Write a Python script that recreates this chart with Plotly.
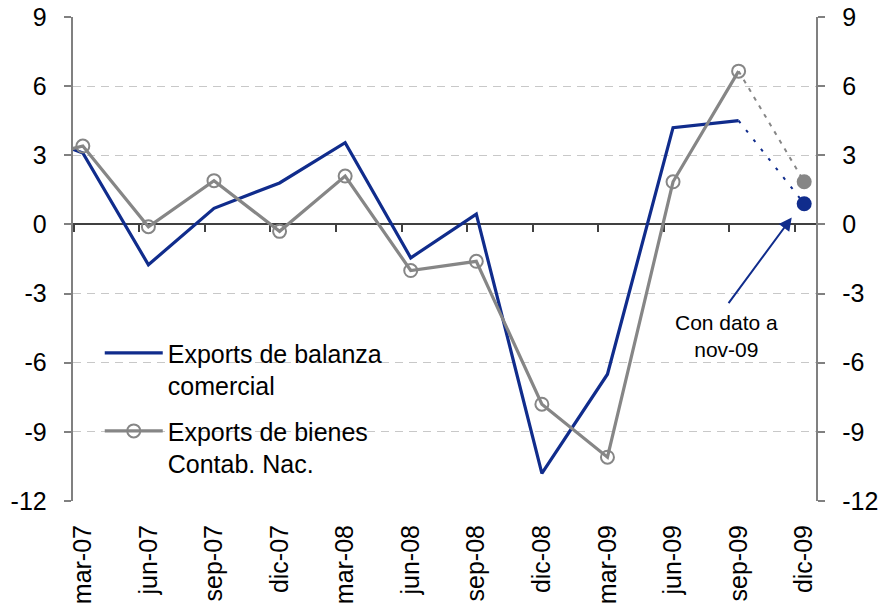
import plotly.graph_objects as go

# quarters (dic-06 only feeds the stub that runs off the left edge)
quarters = ["dic-06", "mar-07", "jun-07", "sep-07", "dic-07", "mar-08", "jun-08",
            "sep-08", "dic-08", "mar-09", "jun-09", "sep-09", "dic-09"]
balanza = [4.2, 3.1, -1.75, 0.7, 1.8, 3.55, -1.45, 0.45, -10.8, -6.5, 4.2, 4.5, 0.9]
contab = [2.7, 3.4, -0.1, 1.9, -0.3, 2.1, -2.0, -1.6, -7.8, -10.1, 1.85, 6.65, 1.85]
y_ticks = [-12, -9, -6, -3, 0, 3, 6, 9]
# plain hyphen as in the original; an en space keeps labels off the axis line
y_labels_left = [f"{v}\u2002" for v in y_ticks]
y_labels_right = [f"\u2002{v}" for v in y_ticks]

BLUE = "#102C8C"
GREY = "#868686"
FONT = "Liberation Sans, Arial, sans-serif"

x = list(range(len(quarters)))
last = len(quarters) - 1  # dic-09 is an estimate (data up to nov-09)

fig = go.Figure()
fig.add_trace(go.Scatter(
    x=x[:last], y=balanza[:last], mode="lines",
    line=dict(color=BLUE, width=3.2),
    name="Exports de balanza<br>comercial", legendgroup="a",
))
fig.add_trace(go.Scatter(
    x=x[:last], y=contab[:last], mode="lines+markers",
    line=dict(color=GREY, width=3.2),
    marker=dict(symbol="circle-open", size=13, color=GREY, line=dict(width=2)),
    name="Exports de bienes<br>Contab. Nac.", legendgroup="b",
))
# dotted extension to the partial last quarter
fig.add_trace(go.Scatter(
    x=x[last - 1:], y=balanza[last - 1:], mode="lines",
    line=dict(color=BLUE, width=2, dash="3px,9px"),
    showlegend=False, xaxis="x2", yaxis="y2",
))
fig.add_trace(go.Scatter(
    x=x[last - 1:], y=contab[last - 1:], mode="lines",
    line=dict(color=GREY, width=2, dash="4px,6px"),
    showlegend=False, xaxis="x2", yaxis="y2",
))
fig.add_trace(go.Scatter(
    x=[x[last]], y=[contab[last]], mode="markers",
    marker=dict(color=GREY, size=15),
    showlegend=False, xaxis="x2", yaxis="y2",
))
fig.add_trace(go.Scatter(
    x=[x[last]], y=[balanza[last]], mode="markers",
    marker=dict(color=BLUE, size=15),
    showlegend=False, xaxis="x2", yaxis="y2",
))

xr = [0.85, 12.18]
yr = [-12, 9]

fig.add_annotation(
    x=11.81, y=0.3, ax=10.83, ay=-3.48, xref="x", yref="y", axref="x", ayref="y",
    text="", showarrow=True, arrowhead=2, arrowsize=1.3, arrowwidth=2,
    arrowcolor=BLUE,
)
fig.add_annotation(
    x=10.81, y=-4.83, xref="x", yref="y", text="Con dato a<br>nov-09",
    showarrow=False, font=dict(size=21, color="#000000", family=FONT),
)

fig.update_layout(
    width=879, height=603,
    margin=dict(l=73, r=63, t=17, b=102),
    plot_bgcolor="white", paper_bgcolor="white",
    font=dict(family=FONT, size=25, color="#000000"),
    showlegend=True,
    legend=dict(
        x=0.036, y=0.353, xanchor="left", yanchor="top",
        bgcolor="rgba(0,0,0,0)", itemwidth=58, valign="top",
        tracegroupgap=10, font=dict(size=25),
    ),
    xaxis=dict(
        range=xr, tickvals=x, ticktext=quarters, tickangle=-90,
        showgrid=False, zeroline=False, showline=False, ticks="",
        ticklabelstandoff=18, tickfont=dict(size=25), automargin=False,
    ),
    xaxis2=dict(
        overlaying="x", matches="x", anchor="free", position=12 / 21,
        side="bottom", tickvals=[v - 0.14 for v in x], showticklabels=False,
        ticks="outside", ticklen=7, tickcolor="#404040", tickwidth=1.5,
        showline=True, linecolor="#404040", linewidth=1.5, showgrid=False,
        zeroline=False, layer="below traces", automargin=False,
    ),
    yaxis=dict(
        range=yr, tickvals=y_ticks, ticktext=y_labels_left, showgrid=True,
        gridcolor="#C8C8C8", griddash="8px,6px", gridwidth=1, zeroline=False,
        showline=True, linecolor="#808080", linewidth=1.5,
        ticks="outside", ticklen=7, tickcolor="#808080", tickwidth=1.5,
        automargin=False,
    ),
    yaxis2=dict(
        range=yr, matches="y", overlaying="y", side="right", anchor="x",
        tickvals=y_ticks, ticktext=y_labels_right, showgrid=False,
        zeroline=False, showline=True, linecolor="#808080", linewidth=1.5,
        ticks="outside", ticklen=7, tickcolor="#808080", tickwidth=1.5,
        automargin=False,
    ),
)

# the page's default body margin would push the chart 8px off the window
fig.write_html(
    "out.html",
    config={"displayModeBar": False},
    post_script="document.body.style.margin='0';",
)
